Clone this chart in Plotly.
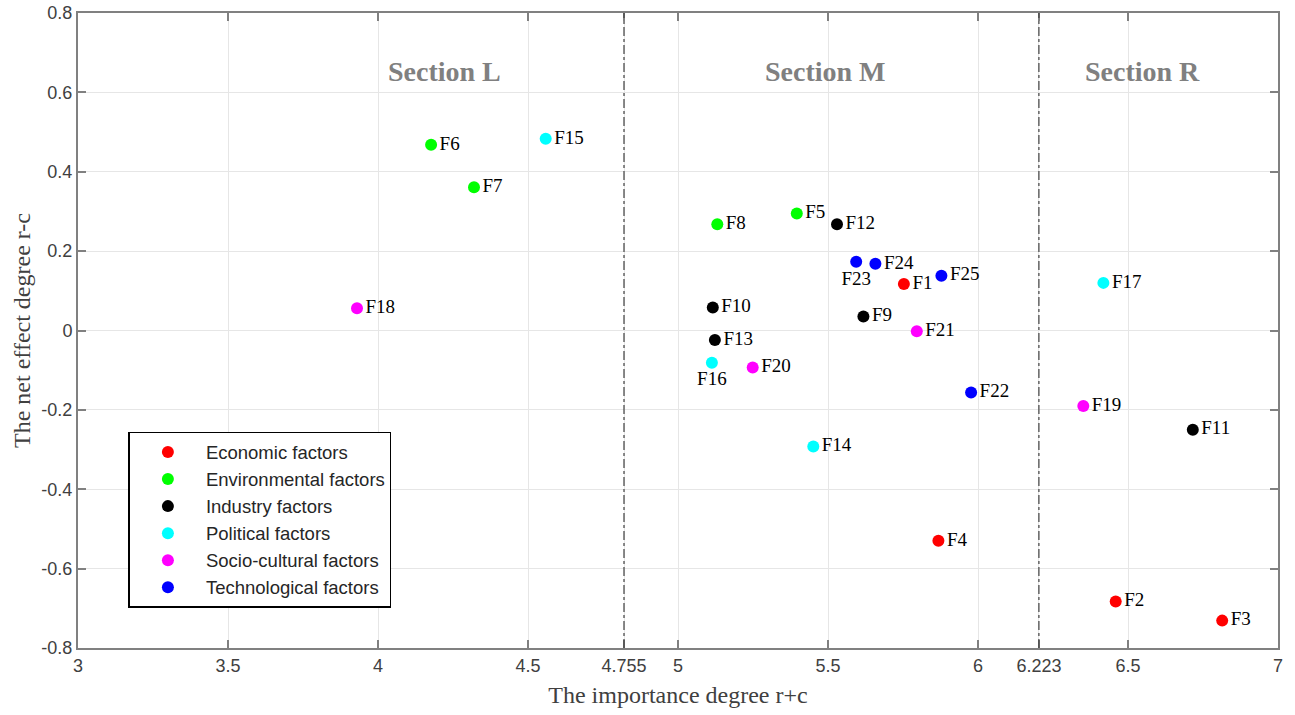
import plotly.graph_objects as go

# ---- data ----
groups = ["Economic factors", "Environmental factors", "Industry factors",
          "Political factors", "Socio-cultural factors", "Technological factors"]
colors = ["#ff0000", "#00ff00", "#000000", "#00ffff", "#ff00ff", "#0000ff"]

econ_names = ["F1", "F2", "F3", "F4"]
econ_x = [5.753, 6.459, 6.814, 5.868]
econ_y = [0.117, -0.683, -0.731, -0.530]

env_names = ["F5", "F6", "F7", "F8"]
env_x = [5.396, 4.177, 4.320, 5.131]
env_y = [0.295, 0.468, 0.361, 0.268]

ind_names = ["F9", "F10", "F11", "F12", "F13"]
ind_x = [5.618, 5.116, 6.716, 5.530, 5.123]
ind_y = [0.035, 0.058, -0.250, 0.268, -0.024]

pol_names = ["F14", "F15", "F16", "F17"]
pol_x = [5.451, 4.559, 5.113, 6.418]
pol_y = [-0.292, 0.483, -0.081, 0.120]

soc_names = ["F18", "F19", "F20", "F21"]
soc_x = [3.930, 6.351, 5.249, 5.796]
soc_y = [0.056, -0.190, -0.093, -0.002]

tech_names = ["F22", "F23", "F24", "F25"]
tech_x = [5.977, 5.594, 5.658, 5.878]
tech_y = [-0.156, 0.173, 0.168, 0.138]

below_labels = ["F16", "F23"]

x_ticks = [3, 3.5, 4, 4.5, 5, 5.5, 6, 6.5, 7]
x_tick_text = ["3", "3.5", "4", "4.5", "5", "5.5", "6", "6.5", "7"]
bound_pos = [4.82, 6.203]          # where the dash-dot lines sit in the picture
bound_text = ["4.755", "6.223"]
y_ticks = [-0.8, -0.6, -0.4, -0.2, 0, 0.2, 0.4, 0.6, 0.8]
y_tick_text = ["-0.8", "-0.6", "-0.4", "-0.2", "0", "0.2", "0.4", "0.6", "0.8"]

section_names = ["Section L", "Section M", "Section R"]
section_x = [4.223, 5.493, 6.547]
section_y = [0.652, 0.652, 0.652]

series = [
    (econ_names, econ_x, econ_y),
    (env_names, env_x, env_y),
    (ind_names, ind_x, ind_y),
    (pol_names, pol_x, pol_y),
    (soc_names, soc_x, soc_y),
    (tech_names, tech_x, tech_y),
]

fig = go.Figure()
for g, c, (names, xs, ys) in zip(groups, colors, series):
    pos = ["bottom center" if n in below_labels else "middle right" for n in names]
    fig.add_trace(go.Scatter(
        x=xs, y=ys, mode="markers+text", name=g,
        text=[n for n in names],
        textposition=pos,
        textfont=dict(family="Liberation Serif", size=19, color="#000000"),
        marker=dict(color=c, size=12),
        cliponaxis=False,
    ))

for bp in bound_pos:
    fig.add_shape(type="line", xref="x", yref="paper", x0=bp, x1=bp, y0=0, y1=1,
                  line=dict(color="#404040", width=1.2, dash="dashdot"))

for s, sx, sy in zip(section_names, section_x, section_y):
    fig.add_annotation(x=sx, y=sy, xref="x", yref="y", text="<b>%s</b>" % s,
                       showarrow=False,
                       font=dict(family="Liberation Serif", size=28, color="#808080"))

all_xt = x_ticks + bound_pos
all_xtt = x_tick_text + bound_text
order = sorted(range(len(all_xt)), key=lambda i: all_xt[i])

fig.update_layout(
    width=1295, height=715,
    margin=dict(l=78, r=17, t=13, b=67),
    plot_bgcolor="white", paper_bgcolor="white",
    showlegend=True,
    legend=dict(x=0.042, y=0.063, xanchor="left", yanchor="bottom",
                bgcolor="white", bordercolor="#000000", borderwidth=1.5,
                font=dict(family="Liberation Sans", size=18.5, color="#262626"),
                itemwidth=66),
    xaxis=dict(range=[3, 7], tickvals=[all_xt[i] for i in order],
               ticktext=[all_xtt[i] for i in order], automargin=False,
               ticklabeloverflow="allow",
               showgrid=True, gridcolor="#e6e6e6", gridwidth=1,
               showline=True, linecolor="#808080", linewidth=2, mirror="ticks",
               ticks="inside", ticklen=8, tickcolor="#808080", tickwidth=1.5,
               zeroline=False,
               tickfont=dict(family="Liberation Sans", size=18, color="#404040"),
               title=dict(text="The importance degree r+c", standoff=12,
                          font=dict(family="Liberation Serif", size=24, color="#404040"))),
    yaxis=dict(range=[-0.8, 0.8], tickvals=y_ticks, ticktext=y_tick_text,
               automargin=False, ticklabeloverflow="allow",
               showgrid=True, gridcolor="#e6e6e6", gridwidth=1,
               showline=True, linecolor="#808080", linewidth=2, mirror="ticks",
               ticks="inside", ticklen=8, tickcolor="#808080", tickwidth=1.5,
               zeroline=False,
               tickfont=dict(family="Liberation Sans", size=18, color="#404040"),
               title=dict(text="The net effect degree r-c", standoff=4,
                          font=dict(family="Liberation Serif", size=24, color="#404040"))),
)

fig.write_html("out.html", config={"displayModeBar": False},
               post_script="document.body.style.margin='0';document.body.style.overflow='hidden';")
